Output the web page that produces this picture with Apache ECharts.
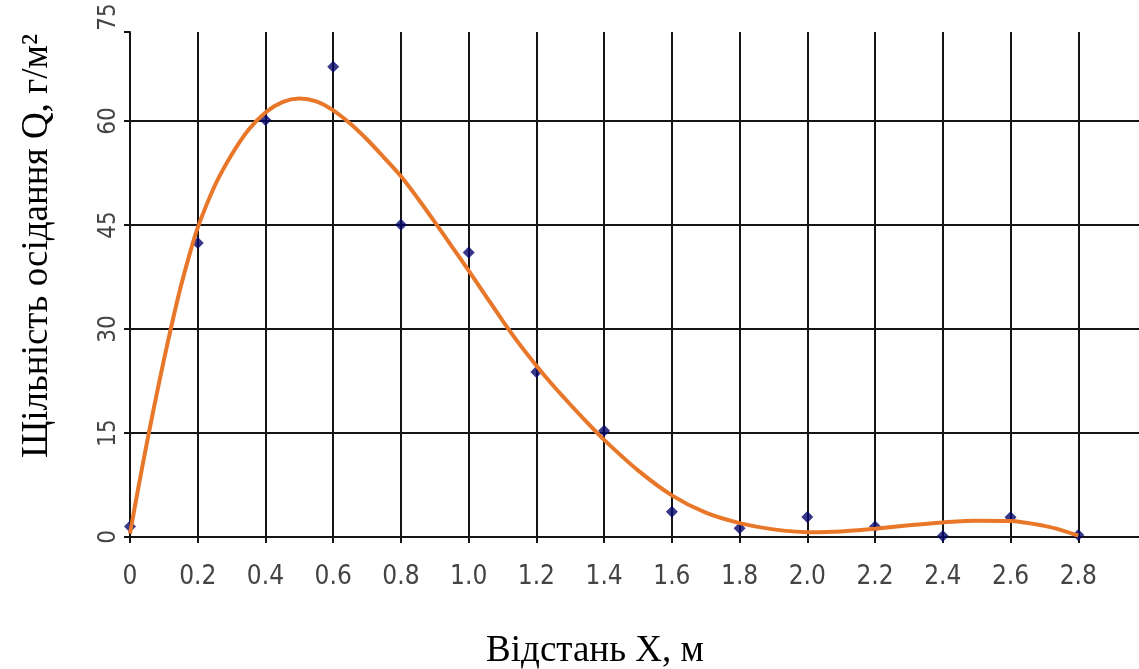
<!DOCTYPE html>
<html>
<head>
<meta charset="utf-8">
<script src="https://cdn.jsdelivr.net/npm/echarts@6/dist/echarts.min.js"></script>
<style>
html,body{margin:0;padding:0;background:#fff;}
#chart{width:1139px;height:669px;}
</style>
</head>
<body>
<div id="chart"></div>
<script>
// Measured points (distance X, m ; deposition density Q, g/m2)
var pointX = [0, 0.2, 0.4, 0.6, 0.8, 1.0, 1.2, 1.4, 1.6, 1.8, 2.0, 2.2, 2.4, 2.6, 2.8];
var pointY = [1.5, 42.4, 60.1, 67.8, 45.0, 41.0, 23.8, 15.3, 3.65, 1.25, 2.9, 1.5, 0.15, 2.85, 0.3];

// Trend curve
var curveX = [0, 0.025, 0.05, 0.075, 0.1, 0.125, 0.15, 0.175, 0.2, 0.25, 0.3, 0.35, 0.4, 0.45, 0.5,
  0.55, 0.6, 0.65, 0.7, 0.75, 0.8, 0.85, 0.9, 0.95, 1.0, 1.05, 1.1, 1.15, 1.2, 1.25, 1.3, 1.35, 1.4,
  1.5, 1.6, 1.7, 1.8, 1.9, 2.0, 2.1, 2.2, 2.3, 2.4, 2.5, 2.6, 2.7, 2.75, 2.8];
var curveY = [0.5, 7.2, 13.6, 19.7, 25.5, 31.0, 36.1, 40.6, 44.6, 50.6, 55.1, 58.7, 61.2, 62.7, 63.2,
  62.8, 61.5, 59.6, 57.3, 54.7, 52.0, 48.8, 45.4, 41.9, 38.4, 34.8, 31.2, 27.8, 24.7, 21.8, 19.1, 16.5, 14.0,
  9.6, 6.0, 3.5, 2.0, 1.1, 0.7, 0.8, 1.2, 1.7, 2.1, 2.35, 2.3, 1.6, 1.0, 0.2];

var yTicks = [0, 15, 30, 45, 60, 75];
var xTickStep = 0.2;

var xName = 'Відстань Х, м';
var yName = 'Щільність осідання Q, г/м²';

var curveData = curveX.map(function (x, i) { return [x, curveY[i]]; });
var pointData = pointX.map(function (x, i) { return [x, pointY[i]]; });

var chart = echarts.init(document.getElementById('chart'), null, {renderer: 'canvas'});
var lineCol = '#151515';
var labelFont = 'DejaVu Sans Condensed, DejaVu Sans, sans-serif';
var serif = 'Liberation Serif, Times New Roman, serif';

chart.setOption({
  backgroundColor: '#ffffff',
  animation: false,
  grid: [
    {left: 130, right: -7, top: 17, bottom: 132, containLabel: false, outerBoundsMode: 'none'},
    {left: 130, right: -7, top: 32, bottom: 132, containLabel: false, outerBoundsMode: 'none'}
  ],
  xAxis: [
    {gridIndex: 0, type: 'value', min: 0, max: 3, show: false},
    {
      gridIndex: 1, type: 'value', min: 0, max: 3, interval: xTickStep,
      name: xName, nameLocation: 'middle', nameGap: 96,
      nameTextStyle: {fontFamily: serif, fontSize: 37, color: '#000', padding: [0, 86, 0, 0]},
      axisLine: {show: true, lineStyle: {color: lineCol, width: 2}},
      axisTick: {show: true, length: 6, lineStyle: {color: lineCol, width: 2}},
      axisLabel: {
        margin: 27, fontSize: 26, color: '#444', fontFamily: labelFont,
        formatter: function (v) {
          if (v > 2.85) return '';
          if (v === 0) return '0';
          return v.toFixed(1);
        }
      },
      splitLine: {show: true, lineStyle: {color: lineCol, width: 2}}
    }
  ],
  yAxis: [
    {
      gridIndex: 0, type: 'value', min: yTicks[0], max: yTicks[yTicks.length - 1], interval: 15,
      name: yName, nameLocation: 'middle', nameGap: 74, nameRotate: 90,
      nameTextStyle: {fontFamily: serif, fontSize: 37, color: '#000', padding: [0, 0, 0, 62]},
      axisLine: {show: false},
      axisTick: {show: false},
      axisLabel: {rotate: 90, margin: 9, fontSize: 24, color: '#444', fontFamily: labelFont},
      splitLine: {show: false}
    },
    {
      gridIndex: 1, type: 'value', min: 0, max: 72.8, interval: 15,
      axisLine: {show: true, lineStyle: {color: lineCol, width: 2}},
      axisTick: {show: true, length: 6, lineStyle: {color: lineCol, width: 2}},
      axisLabel: {show: false},
      splitLine: {show: true, showMaxLine: false, lineStyle: {color: lineCol, width: 2}}
    }
  ],
  series: [
    {
      type: 'scatter', xAxisIndex: 1, yAxisIndex: 1,
      data: pointData, symbol: 'diamond', symbolSize: 12,
      itemStyle: {color: '#06066e'}, z: 3
    },
    {
      type: 'line', xAxisIndex: 1, yAxisIndex: 1,
      data: curveData, smooth: 0.3, symbol: 'none',
      lineStyle: {color: '#E8772A', width: 4}, z: 4
    }
  ]
});
</script>
</body>
</html>
